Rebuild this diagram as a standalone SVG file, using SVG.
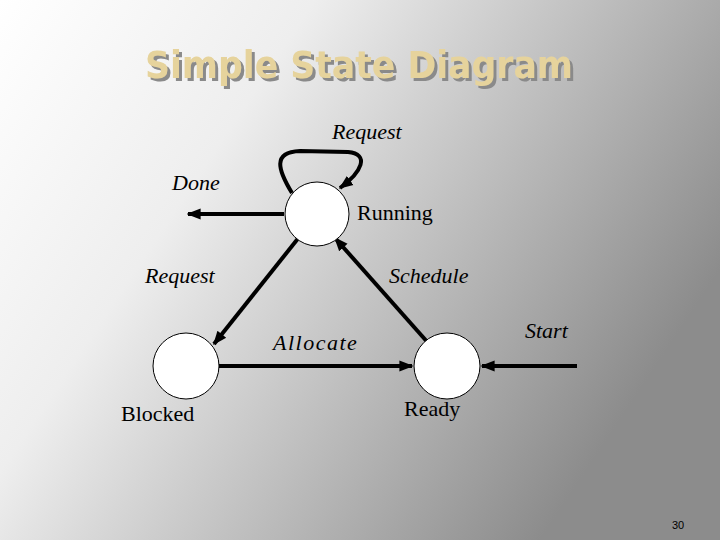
<svg xmlns="http://www.w3.org/2000/svg" width="720" height="540" viewBox="0 0 720 540">
<defs>
<linearGradient id="bg" x1="0" y1="0" x2="1" y2="0.5">
<stop offset="0" stop-color="#ffffff"/>
<stop offset="0.35" stop-color="#eeeeee"/>
<stop offset="1" stop-color="#8c8c8c"/>
</linearGradient>
<filter id="sh" x="-5%" y="-20%" width="110%" height="140%">
<feOffset in="SourceAlpha" dx="3" dy="3" result="o"/>
<feFlood flood-color="#8a8a8a"/>
<feComposite in2="o" operator="in" result="s"/>
<feMerge><feMergeNode in="s"/><feMergeNode in="SourceGraphic"/></feMerge>
</filter>
<marker id="ah" viewBox="0 0 10 10" refX="9" refY="5" markerWidth="3.5" markerHeight="3.5" orient="auto" markerUnits="strokeWidth">
<path d="M0,1 L10,5 L0,9 Z" fill="#000"/>
</marker>
<style>
.st{fill:#fff;stroke:#000;stroke-width:1}
.e{fill:none;stroke:#000;stroke-width:4;marker-end:url(#ah)}
.i{font-style:italic}
</style>
</defs>
<rect width="720" height="540" fill="url(#bg)"/>
<g id="title" font-family="DejaVu Sans,sans-serif" font-weight="bold" font-size="37">
<text x="145" y="78" fill="#e6d39c" filter="url(#sh)" textLength="428" lengthAdjust="spacingAndGlyphs">Simple State Diagram</text>
</g>
<g id="connectors">
<path class="e" d="M292,193 C278,170 272,152 300,151 L348,152 C370,154 362,172 340,188"/>
<line class="e" x1="284" y1="214" x2="188" y2="214"/>
<line class="e" x1="300" y1="236" x2="214" y2="344"/>
<line class="e" x1="430" y1="345" x2="335" y2="238"/>
<line class="e" x1="219" y1="366" x2="412" y2="366"/>
<line class="e" x1="577" y1="366" x2="482" y2="366"/>
</g>
<g font-family="Liberation Serif, Times New Roman, serif" font-size="22" fill="#000">
<g id="running"><circle class="st" cx="317" cy="214" r="32"/><text x="357" y="220">Running</text></g>
<g id="blocked"><circle class="st" cx="186" cy="366" r="33"/><text x="121" y="421">Blocked</text></g>
<g id="ready"><circle class="st" cx="447" cy="366" r="33"/><text x="404" y="416">Ready</text></g>
<g id="labels" font-style="italic">
<text x="332" y="139">Request</text>
<text x="172" y="190">Done</text>
<text x="145" y="283">Request</text>
<text x="389" y="283">Schedule</text>
<text x="273" y="350" letter-spacing="1.5">Allocate</text>
<text x="525" y="338">Start</text>
</g>
</g>
<text x="672" y="529" font-family="Liberation Sans,sans-serif" font-size="11" fill="#000">30</text>
</svg>
